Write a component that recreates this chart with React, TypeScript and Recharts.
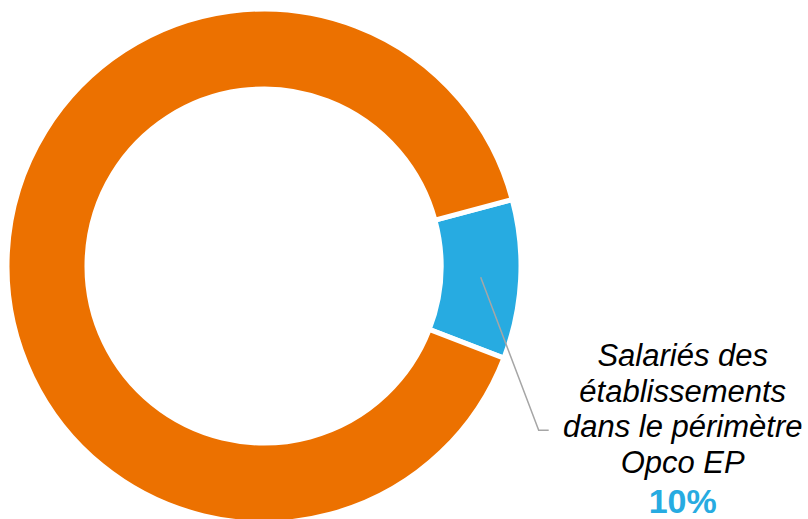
import React from "react";
import { PieChart, Pie, Cell } from "recharts";

/* ── Data ───────────────────────────────────────────────────── */

const SLICE_NAMES = ["Salariés des établissements dans le périmètre Opco EP", "Autres salariés"];
const SLICE_VALUES = [10, 90];
const SLICE_COLORS = ["#27ABE1", "#EC7100"];
const LABEL_LINES = ["Salariés des", "établissements", "dans le périmètre", "Opco EP"];
const LABEL_PCT = "10%";

const data = SLICE_NAMES.map((name, i) => ({ name, value: SLICE_VALUES[i] }));

const RAD = Math.PI / 180;

/* ── Label with leader line (blue slice only) ───────────────── */

function SliceLabel(props: any) {
  const { cx, cy, midAngle, innerRadius, outerRadius, index } = props;
  if (index !== 0) return null;
  const r = (innerRadius + outerRadius) / 2;
  const sx = cx + r * Math.cos(-midAngle * RAD);
  const sy = cy + r * Math.sin(-midAngle * RAD);
  const ex = sx + 58;
  const ey = sy + 153;
  const hx = ex + 10;
  const tx = hx + 134;
  const base = ey - 64;
  return (
    <g>
      <polyline
        points={`${sx},${sy} ${ex},${ey} ${hx},${ey}`}
        fill="none"
        stroke="#A6A6A6"
        strokeWidth={1.5}
      />
      {LABEL_LINES.map((t, i) => (
        <text
          key={t}
          x={tx}
          y={base + i * 35.5}
          textAnchor="middle"
          fontFamily="'Liberation Sans', Arial, sans-serif"
          fontStyle="italic"
          fontSize={31}
          fill="#000"
        >
          {t}
        </text>
      ))}
      <text
        x={tx}
        y={base + 4 * 35.5 + 5}
        textAnchor="middle"
        fontFamily="'Liberation Sans', Arial, sans-serif"
        fontWeight="bold"
        fontSize={34}
        fill={SLICE_COLORS[0]}
      >
        {LABEL_PCT}
      </text>
    </g>
  );
}

/* ── Component ──────────────────────────────────────────────── */

export default function App() {
  return (
    <div style={{ position: "absolute", left: 0, top: 0, width: 808, height: 519, background: "#fff" }}>
      <PieChart width={808} height={519} margin={{ top: 0, right: 0, bottom: 0, left: 0 }}>
        <Pie
          data={data}
          dataKey="value"
          nameKey="name"
          cx={264}
          cy={266}
          innerRadius={177}
          outerRadius={257}
          startAngle={15}
          endAngle={-345}
          stroke="#fff"
          strokeWidth={5}
          label={SliceLabel}
          labelLine={false}
          isAnimationActive={false}
        >
          {data.map((d, i) => (
            <Cell key={d.name} fill={SLICE_COLORS[i]} />
          ))}
        </Pie>
      </PieChart>
    </div>
  );
}
